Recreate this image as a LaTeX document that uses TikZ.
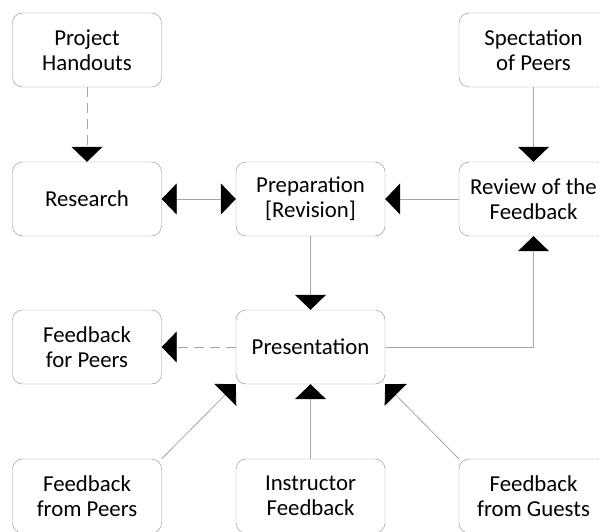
\documentclass[tikz,border=0pt]{standalone}
\usepackage{fontspec}
\setmainfont{Carlito}
\usetikzlibrary{arrows.meta}
\begin{document}
\begin{tikzpicture}[x=1pt,y=-1pt,
box/.style={draw=black!45,rounded corners=10pt,minimum width=149pt,minimum height=74pt,inner sep=0pt,align=center,font=\fontsize{22.8}{25}\selectfont,text=black},
link/.style={draw=black!35,line width=0.8pt,-{Triangle[width=31pt,length=15pt,color=black]}},
both/.style={link,{Triangle[width=31pt,length=15pt,color=black]}-{Triangle[width=31pt,length=15pt,color=black]}},
faint/.style={link,dash pattern=on 10pt off 6pt}
]
\useasboundingbox (0,0) rectangle (599,532);
\clip (0,0) rectangle (599,532);
\node[box] (hand) at (87,50) {Project\\Handouts};
\node[box] (spec) at (533.5,50) {Spectation\\of Peers};
\node[box] (res) at (87,199) {Research};
\node[box] (prep) at (310.5,199) {Preparation\\{[Revision]}};
\node[box] (rev) at (533.5,199) {Review of the\\Feedback};
\node[box] (fbp) at (87,347) {Feedback\\for Peers};
\node[box] (pres) at (310.5,347) {Presentation};
\node[box] (frp) at (87,496) {Feedback\\from Peers};
\node[box] (ins) at (310.5,496) {Instructor\\Feedback};
\node[box] (frg) at (533.5,496) {Feedback\\from Guests};
\draw[faint] (hand) -- (res);
\draw[both] (res) -- (prep);
\draw[link] (rev) -- (prep);
\draw[link] (spec) -- (rev);
\draw[link] (prep) -- (pres);
\draw[link] (pres) -| (rev);
\draw[faint] (pres) -- (fbp);
\draw[link] (frp.north east) -- (pres.south west);
\draw[link] (ins) -- (pres);
\draw[link] (frg.north west) -- (pres.south east);
\end{tikzpicture}
\end{document}
